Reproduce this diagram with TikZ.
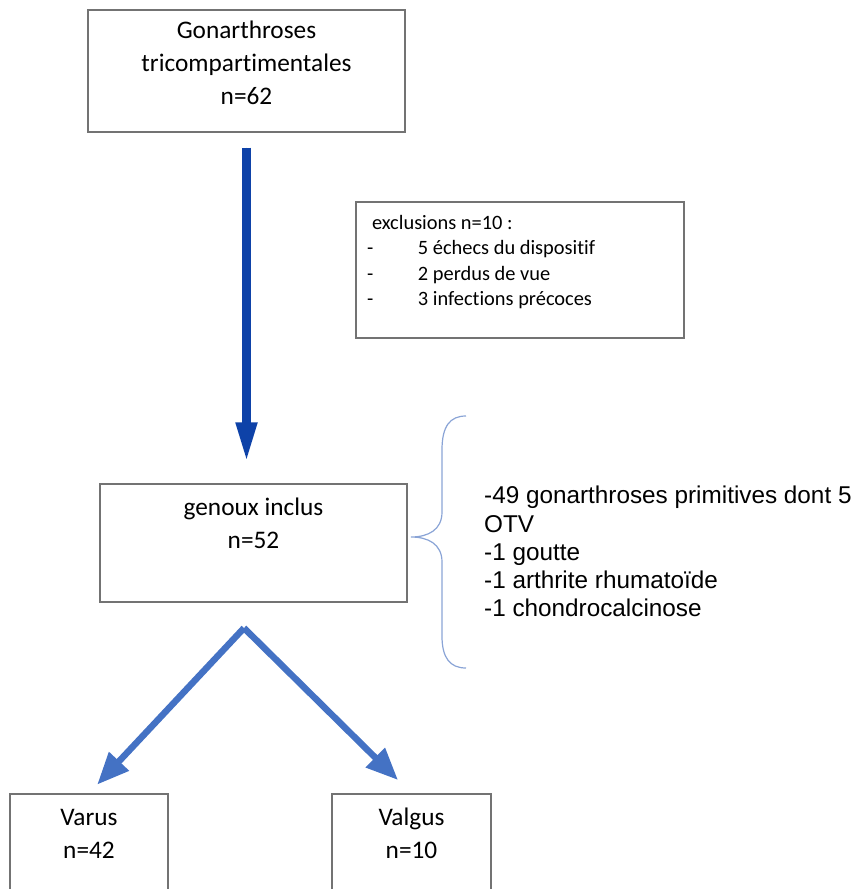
\documentclass[tikz,border=0pt]{standalone}
\usepackage{fontspec}
\setmainfont{Carlito}[Ligatures=NoCommon]
\newfontfamily\arialfont{Liberation Sans}
\usetikzlibrary{arrows.meta,positioning}
\definecolor{boxgray}{RGB}{115,115,115}
\definecolor{darkblue}{RGB}{14,66,168}
\definecolor{officeblue}{RGB}{68,114,196}
\definecolor{bracegray}{RGB}{138,164,214}

\begin{document}
\begin{tikzpicture}[x=1pt, y=-1pt,
  box/.style={draw=boxgray, line width=1.3pt, inner sep=0pt, font=\fontsize{25.3}{33}\selectfont},
  bigarrow/.style={-{Triangle[length=42pt,width=19pt]}, draw=darkblue, fill=darkblue, line width=9.5pt},
  splitarrow/.style={-{Triangle[length=32pt,width=26pt]}, draw=officeblue, fill=officeblue, line width=6.5pt}]

\clip (0,0) rectangle (857,889);

\node[box] at (246.5,71) (gon) {\parbox[t][122pt][t]{317pt}{\centering\vspace*{11pt}Gonarthroses\\tricompartimentales\\n=62}};
\node[box, font=\fontsize{20.4}{25.5}\selectfont] at (520,270) (excl) {\parbox[t][136pt][t]{328pt}{\vspace*{13pt}\hspace*{16pt}exclusions n=10 :\\
  \hspace*{11pt}\makebox[51pt][l]{-}5 échecs du dispositif\\
  \hspace*{11pt}\makebox[51pt][l]{-}2 perdus de vue\\
  \hspace*{11pt}\makebox[51pt][l]{-}3 infections précoces}};
\node[box] at (253.5,543) (genoux) {\parbox[t][118pt][t]{307pt}{\centering\vspace*{13.5pt}genoux inclus\\n=52}};
\node[box] at (89,849) (varus) {\parbox[t][110pt][t]{158pt}{\centering\vspace*{15.5pt}Varus\\n=42}};
\node[box] at (411.5,849) (valgus) {\parbox[t][110pt][t]{159pt}{\centering\vspace*{14pt}Valgus\\n=10}};

\node[anchor=north west, align=left, inner sep=0pt, font=\arialfont\fontsize{24.3}{28.2}\selectfont] at (484,486) (causes) {-49 gonarthroses primitives dont 5\\OTV\\-1 goutte\\-1 arthrite rhumatoïde\\-1 chondrocalcinose};

\draw[bracegray, line width=1.2pt] (466,416) .. controls (450,416) and (442,426) .. (442,450)
  -- (442,512) .. controls (442,530) and (428,537) .. (411,537)
  .. controls (428,537) and (442,544) .. (442,562)
  -- (442,636) .. controls (442,658) and (450,668) .. (466,668);

\coordinate (apex) at (244,628);
\draw[bigarrow, shorten <=15pt, shorten >=19pt] (gon.south) -- (gon.south |- genoux.north);
\draw[splitarrow, shorten >=12pt] (apex) -- (varus.north);
\draw[splitarrow, shorten >=19pt] (apex) -- (valgus.north);
\end{tikzpicture}
\end{document}
